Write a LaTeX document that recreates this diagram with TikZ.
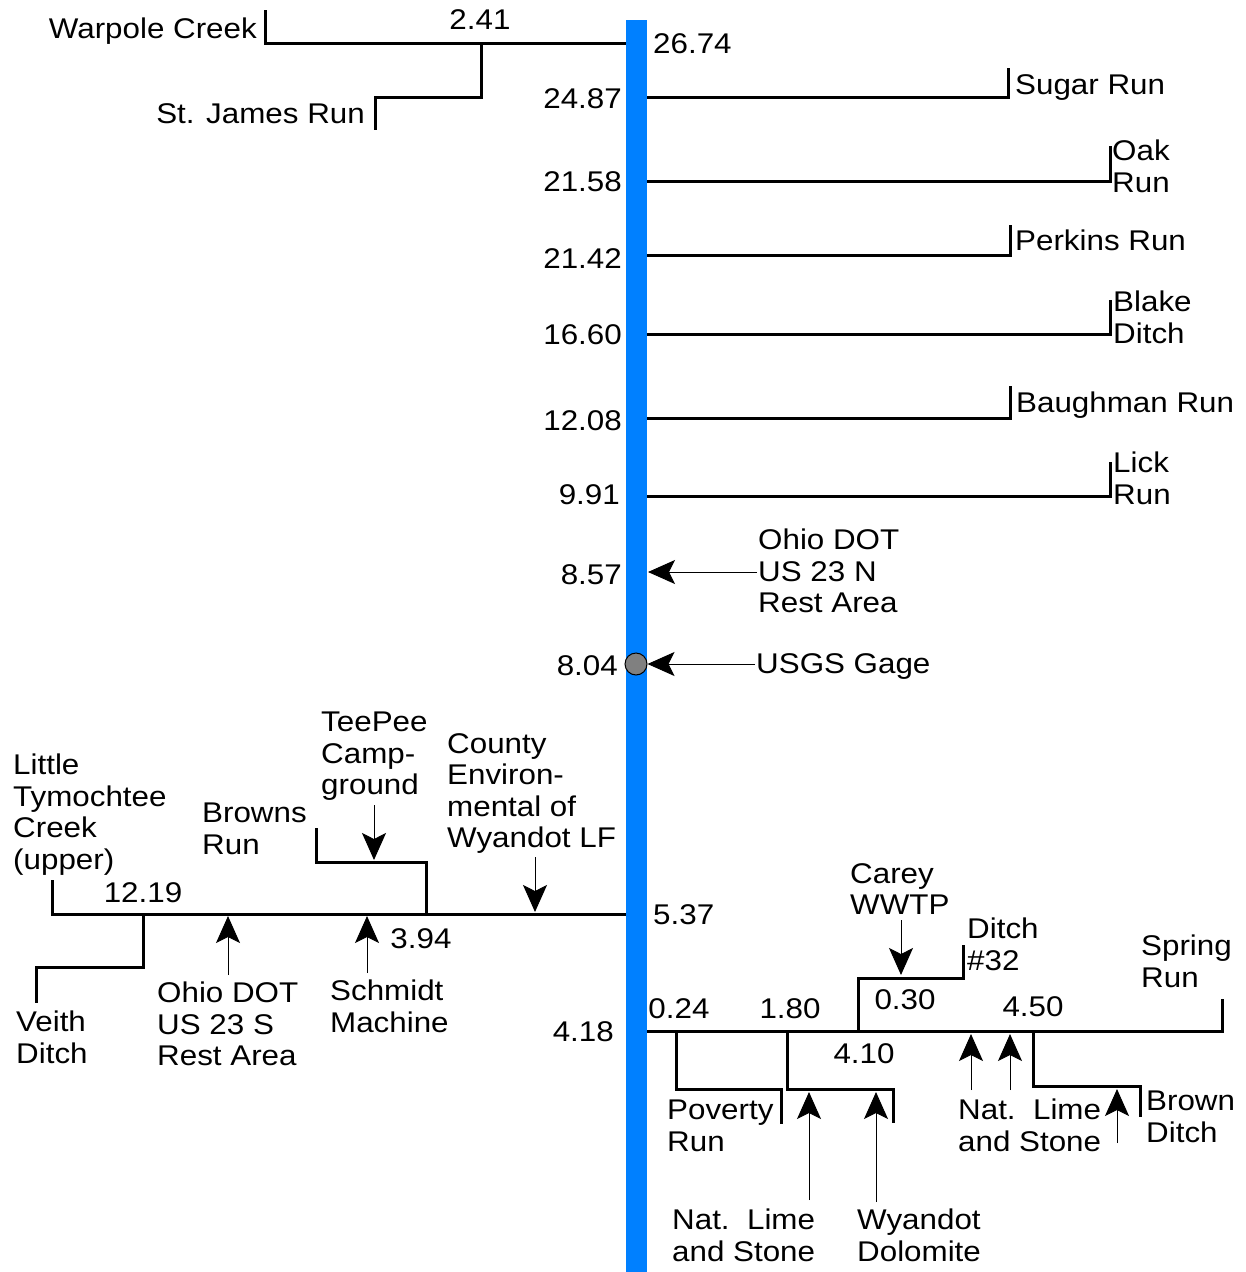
\documentclass[tikz,border=0pt]{standalone}
\usepackage{fontspec}
\setmainfont{Liberation Sans}[FakeStretch=1.1]
\usetikzlibrary{arrows.meta}
\definecolor{river}{RGB}{0,128,255}
\definecolor{gagegray}{RGB}{128,128,128}
\begin{document}
\begin{tikzpicture}[x=1pt,y=-1pt,
  trib/.style={line width=3pt, line join=miter, line cap=butt},
  arr/.style={line width=1pt, -{Stealth[length=27pt,width=24pt,inset=6pt]}},
  lab/.style={inner sep=0pt, font=\fontsize{28.5}{31.5}\selectfont, align=left},
  labW/.style={lab, anchor=north west},
  labE/.style={lab, anchor=north east},
  labN/.style={lab, anchor=north}]
\useasboundingbox (0,0) rectangle (1246,1272);
% ---------- top left ----------
\draw[trib] (265,10) -- (265,43) -- (626,43);
\draw[trib] (481,43) -- (481,97) -- (375,97) -- (375,130);
\node[labE] (warpole) at (257,18) {Warpole Creek};
\node[labN] (k241) at (480,9) {2.41};
\node[labE] (stjames) at (365,103) {St. James Run};
\node[labW] (k2674) at (653,33) {26.74};
% ---------- right tributaries ----------
\draw[trib] (647,97) -- (1008,97) -- (1008,68);
\draw[trib] (647,181) -- (1110,181) -- (1110,146);
\draw[trib] (647,255) -- (1010,255) -- (1010,225);
\draw[trib] (647,334) -- (1110,334) -- (1110,300);
\draw[trib] (647,418) -- (1010,418) -- (1010,386);
\draw[trib] (647,496) -- (1110,496) -- (1110,462);
\node[labE] (k2487) at (622,88) {24.87};
\node[labW] (sugar) at (1015,74) {Sugar Run};
\node[labW] (oak) at (1112,140) {Oak\\Run};
\node[labE] (k2158) at (622,171) {21.58};
\node[labW] (perkins) at (1015,230) {Perkins Run};
\node[labE] (k2142) at (622,248) {21.42};
\node[labW] (blake) at (1113,291) {Blake\\Ditch};
\node[labE] (k1660) at (622,324) {16.60};
\node[labW] (baughman) at (1016,392) {Baughman Run};
\node[labE] (k1208) at (622,410) {12.08};
\node[labW] (lick) at (1113,452) {Lick\\Run};
\node[labE] (k991) at (620,484) {9.91};
\node[labW] (ohion) at (758,529) {Ohio DOT\\US 23 N\\Rest Area};
\node[labE] (k857) at (622,564) {8.57};
\node[labW] (usgs) at (756,653) {USGS Gage};
\node[labE] (k804) at (618,655) {8.04};
% ---------- lower left ----------
\draw[trib] (52,880) -- (52,914) -- (626,914);
\draw[trib] (143,914) -- (143,967) -- (36,967) -- (36,1003);
\draw[trib] (426,914) -- (426,862) -- (316,862) -- (316,828);
\node[labW] (little) at (13,754) {Little\\Tymochtee\\Creek\\(upper)};
\node[labN] (k1219) at (143,882) {12.19};
\node[labW] (browns) at (202,803) {Browns\\Run};
\node[labW] (teepee) at (321,712) {TeePee\\Camp-\\ground};
\node[labW] (county) at (447,733) {County\\Environ-\\mental of\\Wyandot LF};
\node[labW] (k537) at (653,904) {5.37};
\node[labN] (k394) at (421,928) {3.94};
\node[labW] (veith) at (16,1011) {Veith\\Ditch};
\node[labW] (ohios) at (157,982) {Ohio DOT\\US 23 S\\Rest Area};
\node[labW] (schmidt) at (330,980) {Schmidt\\Machine};
\node[labE] (k418) at (614,1021) {4.18};
\coordinate (aOS1) at (228,975); \coordinate (aOS2) at (228,916);
\coordinate (aSM1) at (367,973); \coordinate (aSM2) at (367,916);
\coordinate (aTP1) at (374,805); \coordinate (aTP2) at (374,860);
\coordinate (aCE1) at (535,857); \coordinate (aCE2) at (535,912);
\draw[arr] (aOS1) -- (aOS2);
\draw[arr] (aSM1) -- (aSM2);
\draw[arr] (aTP1) -- (aTP2);
\draw[arr] (aCE1) -- (aCE2);
% ---------- lower right ----------
\draw[trib] (647,1031) -- (1222,1031) -- (1222,999);
\draw[trib] (676,1031) -- (676,1089) -- (781,1089) -- (781,1124);
\draw[trib] (787,1031) -- (787,1089) -- (893,1089) -- (893,1123);
\draw[trib] (858,1031) -- (858,978) -- (963,978) -- (963,945);
\draw[trib] (1033,1031) -- (1033,1086) -- (1140,1086) -- (1140,1117);
\node[labW] (carey) at (850,863) {Carey\\WWTP};
\node[labW] (ditch32) at (967,918) {Ditch\\\#32};
\node[labW] (spring) at (1141,935) {Spring\\Run};
\node[labN] (k024) at (679,998) {0.24};
\node[labN] (k180) at (790,998) {1.80};
\node[labN] (k030) at (905,989) {0.30};
\node[labN] (k450) at (1033,996) {4.50};
\node[labN] (k410) at (864,1043) {4.10};
\node[labW] (poverty) at (667,1100) {Poverty\\Run};
\node[labW] (natlime1) at (672,1209) {Nat.\ \ Lime\\and Stone};
\node[labW] (wyandot) at (857,1209) {Wyandot\\Dolomite};
\node[labW] (natlime2) at (958,1099) {Nat.\ \ Lime\\and Stone};
\node[labW] (brown) at (1146,1091) {Brown\\Ditch};
\coordinate (aNL1) at (809,1200); \coordinate (aNL2) at (809,1092);
\coordinate (aWD1) at (876,1202); \coordinate (aWD2) at (876,1092);
\coordinate (aCW1) at (901,920); \coordinate (aCW2) at (901,975);
\coordinate (aNA1) at (971,1090); \coordinate (aNA2) at (971,1034);
\coordinate (aNB1) at (1010,1090); \coordinate (aNB2) at (1010,1034);
\coordinate (aBD1) at (1117,1143); \coordinate (aBD2) at (1117,1089);
\draw[arr] (aNL1) -- (aNL2);
\draw[arr] (aWD1) -- (aWD2);
\draw[arr] (aCW1) -- (aCW2);
\draw[arr] (aNA1) -- (aNA2);
\draw[arr] (aNB1) -- (aNB2);
\draw[arr] (aBD1) -- (aBD2);
% ---------- river ----------
\fill[river] (626,20) rectangle (647,1272);
\node[circle, draw, fill=gagegray, minimum size=22pt, inner sep=0pt, line width=1pt] (gage) at (636,664) {};
\coordinate (aON1) at (757,572); \coordinate (aON2) at (648,572);
\coordinate (aUG) at (755,664);
\draw[arr] (aON1) -- (aON2);
\draw[arr] (aUG) -- (gage.east);
\end{tikzpicture}
\end{document}
